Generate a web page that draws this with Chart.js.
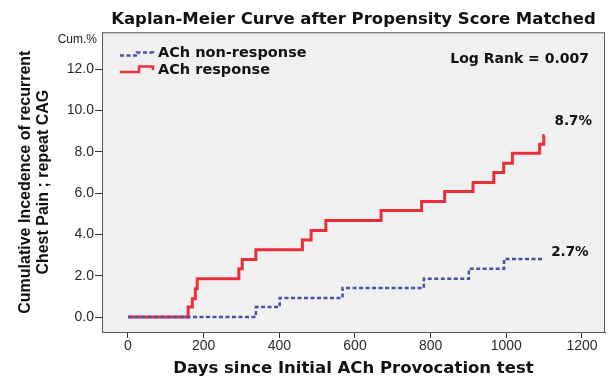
<!DOCTYPE html>
<html>
<head>
<meta charset="utf-8">
<title>Kaplan-Meier Curve</title>
<script src="https://cdn.jsdelivr.net/npm/chart.js@4.4.1/dist/chart.umd.min.js"></script>
<style>
  body { margin: 0; background: #fff; }
  canvas { display: block; }
</style>
</head>
<body>
<canvas id="kmChart" width="608" height="381"></canvas>
<script>
// veriler (gün, kümülatif %)
const daysNonResponse = [0, 338, 401, 567, 782, 901, 994, 1100];
const cumNonResponse  = [0, 0.48, 0.92, 1.40, 1.85, 2.34, 2.81, 2.81];

const daysResponse = [0, 159, 170, 178, 183, 293, 302, 338, 461, 484, 523, 669, 776, 837, 912, 967, 993, 1016, 1088, 1099, 1101];
const cumResponse  = [0, 0.48, 0.89, 1.37, 1.85, 2.34, 2.79, 3.26, 3.73, 4.19, 4.67, 5.16, 5.59, 6.08, 6.51, 7.00, 7.45, 7.93, 8.37, 8.79, 8.79];

const seriesNames = ['ACh non-response', 'ACh response'];
const xTicks = [0, 200, 400, 600, 800, 1000, 1200];
const yTicks = [0, 2, 4, 6, 8, 10, 12];

const blue = '#4453a6';
const red = '#ea2f3b';

function toPoints(xs, ys) {
    return xs.map((x, i) => ({ x: x, y: ys[i] }));
}

// alan arka planı
const areaBg = {
    id: 'areaBg',
    beforeDraw(chart) {
        const { ctx, chartArea: a } = chart;
        ctx.save();
        ctx.fillStyle = '#f0f0f0';
        ctx.fillRect(a.left, a.top, a.right - a.left, a.bottom - a.top);
        ctx.restore();
    }
};

// çerçeve, lejant ve notlar
const extras = {
    id: 'extras',
    afterDraw(chart) {
        const { ctx, chartArea: a, scales } = chart;
        ctx.save();
        ctx.strokeStyle = '#555';
        ctx.lineWidth = 1;
        ctx.strokeRect(a.left + 0.5, a.top + 0.5, a.right - a.left - 1, a.bottom - a.top);

        // lejant simgeleri
        ctx.lineWidth = 2.5;
        ctx.strokeStyle = blue;
        ctx.setLineDash([4, 2.5]);
        ctx.beginPath();
        ctx.moveTo(120, 55.5); ctx.lineTo(137, 55.5); ctx.lineTo(137, 52.5);
        ctx.lineTo(153, 52.5); ctx.lineTo(153, 55);
        ctx.stroke();
        ctx.setLineDash([]);
        ctx.strokeStyle = red;
        ctx.beginPath();
        ctx.moveTo(120, 72); ctx.lineTo(139, 72); ctx.lineTo(139, 66.5);
        ctx.lineTo(153, 66.5); ctx.lineTo(153, 70);
        ctx.stroke();

        ctx.fillStyle = '#111';
        ctx.textBaseline = 'middle';
        ctx.font = 'bold 14.5px "DejaVu Sans"';
        ctx.textAlign = 'left';
        ctx.fillText(seriesNames[0], 158, 53.5);
        ctx.fillText(seriesNames[1], 158, 70);

        ctx.font = 'bold 14px "DejaVu Sans"';
        ctx.textAlign = 'right';
        ctx.fillText('Log Rank = 0.007', 589, 59);

        // son değer etiketleri
        ctx.font = 'bold 13.5px "DejaVu Sans"';
        ctx.textAlign = 'left';
        const xs = scales.x, ys = scales.y;
        ctx.fillText('8.7%', xs.getPixelForValue(daysResponse[daysResponse.length - 1]) + 10,
            ys.getPixelForValue(cumResponse[cumResponse.length - 1]) - 14);
        ctx.fillText('2.7%', xs.getPixelForValue(daysNonResponse[daysNonResponse.length - 1]) + 7,
            ys.getPixelForValue(cumNonResponse[cumNonResponse.length - 1]) - 6);

        ctx.font = '12px "Liberation Sans"';
        ctx.fillStyle = '#222';
        ctx.textAlign = 'right';
        ctx.fillText('Cum.%', 97, 40);
        ctx.restore();
    }
};

new Chart(document.getElementById('kmChart').getContext('2d'), {
    type: 'line',
    data: {
        datasets: [{
            label: seriesNames[0],
            data: toPoints(daysNonResponse, cumNonResponse),
            borderColor: blue,
            borderWidth: 2.5,
            borderDash: [4, 2.5],
            stepped: 'before',
            pointRadius: 0,
            fill: false
        }, {
            label: seriesNames[1],
            data: toPoints(daysResponse, cumResponse),
            borderColor: red,
            borderWidth: 3,
            stepped: 'before',
            pointRadius: 0,
            fill: false
        }]
    },
    options: {
        responsive: false,
        animation: false,
        layout: { padding: { top: 0, right: 3, left: 0, bottom: 0 } },
        plugins: {
            legend: { display: false },
            tooltip: { enabled: false },
            title: {
                display: true,
                text: 'Kaplan-Meier Curve after Propensity Score Matched',
                fullSize: false,
                color: '#111',
                font: { family: 'DejaVu Sans', size: 16.5, weight: 'bold' },
                padding: { top: 10, bottom: 2.5 }
            }
        },
        scales: {
            x: {
                type: 'linear',
                min: -68.7,
                max: 1260.8,
                afterBuildTicks: s => { s.ticks = xTicks.map(v => ({ value: v })); },
                afterFit: s => { s.height = 49; },
                ticks: {
                    autoSkip: false,
                    maxRotation: 0,
                    padding: 0,
                    color: '#2a2a2a',
                    font: { family: 'Liberation Sans', size: 14 },
                    callback: v => String(v)
                },
                grid: { drawOnChartArea: false, tickLength: 6, tickColor: '#333' },
                border: { color: '#444' },
                title: {
                    display: true,
                    text: 'Days since Initial ACh Provocation test',
                    color: '#111',
                    font: { family: 'DejaVu Sans', size: 16.5, weight: 'bold' },
                    padding: { top: 0, bottom: 2 }
                }
            },
            y: {
                min: -0.726,
                max: 13.79,
                afterBuildTicks: s => { s.ticks = yTicks.map(v => ({ value: v })); },
                afterFit: s => { s.width = 102; },
                ticks: {
                    padding: 1,
                    color: '#2a2a2a',
                    font: { family: 'Liberation Sans', size: 14 },
                    callback: v => Number(v).toFixed(1)
                },
                grid: { drawOnChartArea: false, tickLength: 7, tickColor: '#333' },
                border: { color: '#444' },
                title: {
                    display: true,
                    text: ['Cumulative Incedence of recurrent', 'Chest Pain ; repeat CAG'],
                    color: '#111',
                    font: { family: 'Liberation Sans', size: 16, weight: 'bold', lineHeight: 1.1 },
                    padding: { top: 17, bottom: 0 }
                }
            }
        }
    },
    plugins: [areaBg, extras]
});
</script>
</body>
</html>
